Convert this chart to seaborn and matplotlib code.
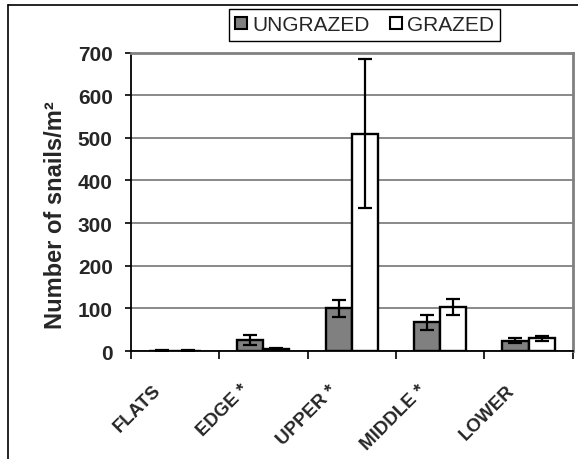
import matplotlib
matplotlib.use("Agg")
import matplotlib.pyplot as plt
import matplotlib.transforms as mtransforms
from matplotlib.patches import Patch
from matplotlib.lines import Line2D
import seaborn as sns
import pandas as pd

categories = ["FLATS", "EDGE *", "UPPER *", "MIDDLE *", "LOWER"]
series = ["UNGRAZED", "GRAZED"]
ungrazed = [1, 26, 100, 67, 24]
ungrazed_err = [0.5, 12, 20, 17, 6]
grazed = [1, 4, 510, 103, 30]
grazed_err = [0.5, 2, 175, 18, 6]
yticks = [0, 100, 200, 300, 400, 500, 600, 700]

sns.set_theme(style="white")
plt.rcParams["font.family"] = ["Liberation Sans", "DejaVu Sans"]

df = pd.DataFrame({
    "site": categories * 2,
    "treatment": [series[0]] * len(categories) + [series[1]] * len(categories),
    "count": ungrazed + grazed,
})

W, H = 578, 460
fig = plt.figure(figsize=(W / 100, H / 100), dpi=100)
fig.patch.set_facecolor("white")
ax = fig.add_axes([130.7 / W, 1 - 352 / H, (572.7 - 130.7) / W, (352 - 53.5) / H])

colors = {"UNGRAZED": "#808080", "GRAZED": "#ffffff"}
sns.barplot(data=df, x="site", y="count", hue="treatment", hue_order=series,
            order=categories, palette=colors, edgecolor="black", linewidth=1.7,
            width=0.59, errorbar=None, legend=False, ax=ax, zorder=3)

errs = [ungrazed_err, grazed_err]
vals = [ungrazed, grazed]
for cont, v, e in zip(ax.containers, vals, errs):
    xs = [p.get_x() + p.get_width() / 2 for p in cont.patches]
    ax.errorbar(xs, v, yerr=e, fmt="none", ecolor="black", elinewidth=1.6,
                capsize=5, capthick=1.6, zorder=4)

ax.set_ylim(0, 700)
ax.set_xlim(-0.5, len(categories) - 0.5)
ax.set_yticks(yticks)
ax.set_yticklabels([str(t) for t in yticks], fontsize=15, fontweight="bold")
ax.grid(axis="y", color="#808080", linewidth=1.3, zorder=0)
ax.set_axisbelow(True)

for s in ["top", "right"]:
    ax.spines[s].set_color("#808080")
    ax.spines[s].set_linewidth(2)
for s in ["left", "bottom"]:
    ax.spines[s].set_color("black")
    ax.spines[s].set_linewidth(1.3)

ax.tick_params(axis="y", direction="out", length=4, width=1.2, color="black",
               pad=9, left=True)
ax.set_xticks(range(len(categories)))
ax.set_xticks([i - 0.5 for i in range(len(categories) + 1)], minor=True)
ax.tick_params(axis="x", which="major", length=0, pad=0)
ax.tick_params(axis="x", which="minor", direction="out", length=6, width=1.2,
               color="black", bottom=True)
ax.set_xticklabels(categories, rotation=45, ha="right", va="center",
                   rotation_mode="anchor", fontsize=13.5, fontweight="bold")
offset = mtransforms.ScaledTranslation(-0.17, -0.36, fig.dpi_scale_trans)
for lab in ax.get_xticklabels():
    lab.set_transform(lab.get_transform() + offset)

ax.set_xlabel("")
ax.set_ylabel("Number of snails/m²", fontsize=17, fontweight="bold")
ax.yaxis.set_label_coords(-0.145, 0.46)

handles = [Patch(facecolor=colors[s], edgecolor="black", linewidth=1.5) for s in series]
leg = fig.legend(handles, series, loc="upper left",
                 bbox_to_anchor=(229 / W, 1 - 10 / H), ncol=2, fontsize=15,
                 frameon=True, fancybox=False, framealpha=1, edgecolor="black",
                 handlelength=0.55, handleheight=0.55, handletextpad=0.25,
                 columnspacing=1.0, borderpad=0.3, borderaxespad=0)
leg.get_frame().set_linewidth(1.0)

# outer chart frame (cut off at right and bottom)
fig.add_artist(Line2D([8 / W, 8 / W], [0, 1 - 6 / H], transform=fig.transFigure,
                      color="black", linewidth=1.2))
fig.add_artist(Line2D([8 / W, 1], [1 - 6 / H, 1 - 6 / H], transform=fig.transFigure,
                      color="black", linewidth=1.2))

fig.savefig("out.png", dpi=100)
